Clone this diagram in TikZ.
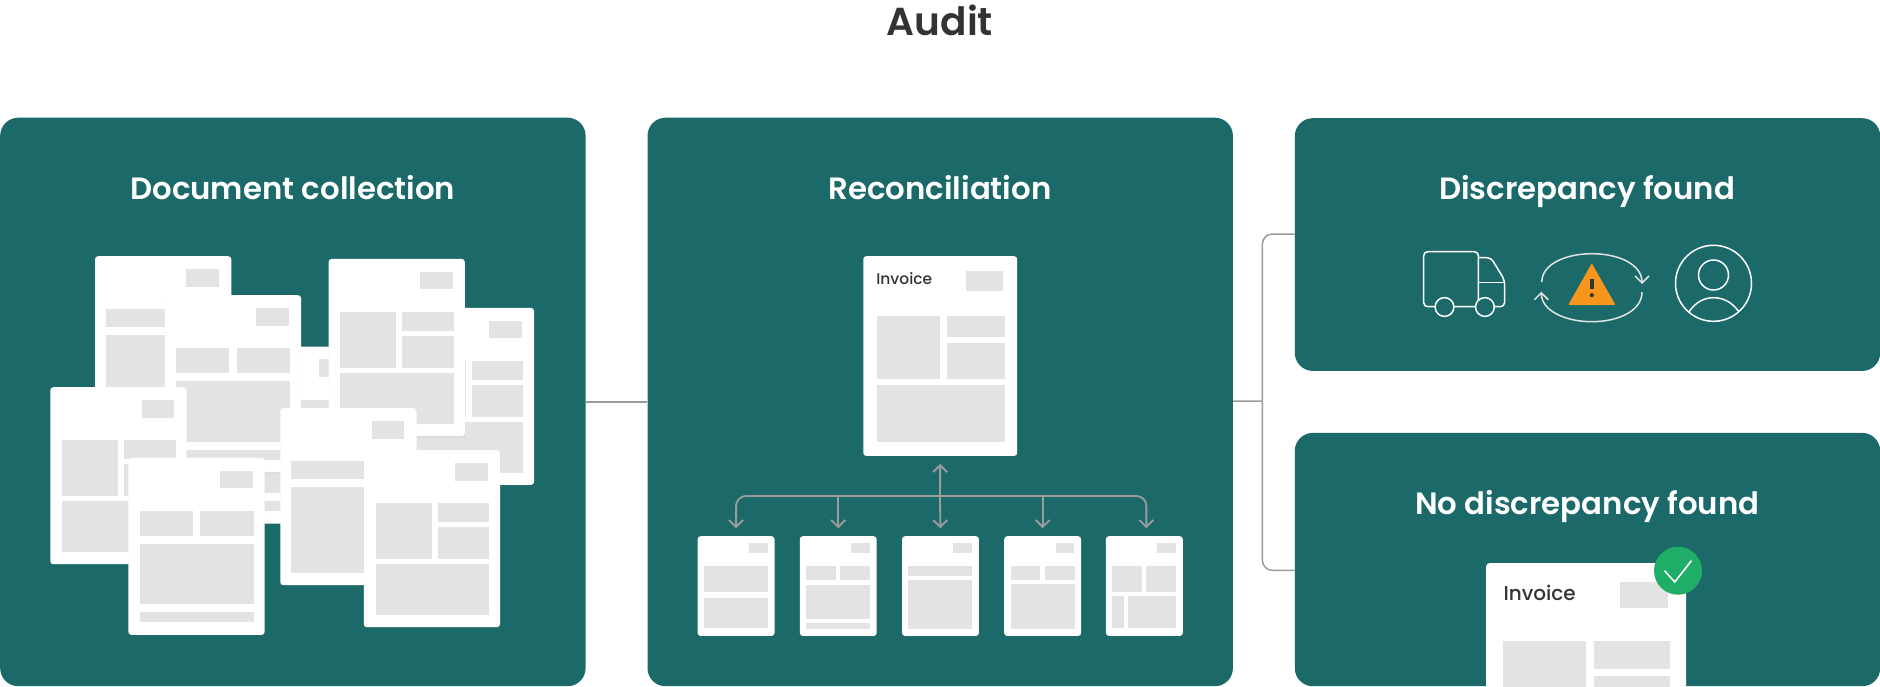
\documentclass[tikz,border=0pt]{standalone}
\usepackage{fontspec}
\setmainfont{Poppins}[UprightFont=* Medium,BoldFont=* Bold]
\newfontfamily\titlefont{Poppins SemiBold}
\usetikzlibrary{arrows.meta,shadows}
\definecolor{panelcol}{RGB}{27,105,105}
\definecolor{blockcol}{RGB}{227,227,227}
\definecolor{linecol}{RGB}{155,155,155}
\definecolor{inkcol}{RGB}{51,51,51}
\definecolor{warncol}{RGB}{247,150,28}
\definecolor{okcol}{RGB}{31,174,104}
\newcommand{\blk}[4]{\fill [blockcol] (#1,#2) rectangle (#3,#4);}
\tikzset{every picture/.style={x=1pt,y=-1pt}}
\tikzset{panel/.style={rectangle,fill=panelcol,rounded corners=18pt,inner sep=0,minimum width=585.4pt,anchor=north west}}
\tikzset{paneltitle/.style={text=white,anchor=base,inner sep=0,font=\titlefont\fontsize{30.8}{34}\selectfont}}
\tikzset{page/.style={rectangle,fill=white,rounded corners=3pt,inner sep=0,anchor=north west,minimum width=136.2pt,minimum height=177pt,drop shadow={shadow xshift=0pt,shadow yshift=-2pt,opacity=.08}}}
\tikzset{link/.style={draw=linecol,line width=1.5pt}}
\tikzset{flow/.style={link,line width=1.9pt,shorten >=7.7pt,-{Straight Barb[length=7pt,width=14pt]}}}
\tikzset{icon/.style={draw=white,line width=1.5pt,line join=round}}
\tikzset{pagebar/.pic={\blk{91.5}{13}{124.3}{30.7}\blk{11.3}{53}{125.3}{71}\blk{11.3}{78.7}{125.3}{164.7}}}
\tikzset{pagetwo/.pic={\blk{91.5}{13}{124.3}{30.7}\blk{11.3}{53.3}{64.5}{78.3}\blk{72}{53.3}{125.3}{78.3}\blk{11.3}{86.3}{125.3}{146.7}\blk{11.3}{154.7}{125.3}{164.7}}}
\tikzset{pagegrid/.pic={\blk{91.5}{13}{124.3}{30.7}\blk{11.9}{53.3}{68}{109}\blk{74}{53.3}{125.6}{72.3}\blk{74}{77.3}{125.6}{109}\blk{11.9}{114.3}{125.6}{165}}}
\tikzset{smallstack/.pic={\blk{51.7}{7}{70.4}{17.3}\blk{6.5}{30}{71}{56}\blk{6.5}{62}{71}{92}}}
\tikzset{smallwide/.pic={\blk{51.7}{7}{70.4}{17.3}\blk{6.5}{30}{36.3}{44.3}\blk{40.5}{30}{70.8}{44.3}\blk{6.5}{48}{70.8}{93}}}
\tikzset{smallmix/.pic={\blk{51.7}{7}{70.4}{17.3}\blk{6}{30}{36.3}{56}\blk{40}{30}{70.4}{56}\blk{6}{60}{18.3}{92}\blk{22}{60}{70.4}{92}}}

\begin{document}
\begin{tikzpicture}
\useasboundingbox (0,0) rectangle (1880,686);
\node [font=\titlefont\fontsize{39}{42}\selectfont,text=inkcol,anchor=base,inner sep=0] (audit) at (940,35.5) {Audit};
% panels
\node [panel,minimum height=568.5pt] (collect) at (0,117.5) {};
\node [panel,minimum height=568.5pt] (recon) at (647.3,117.5) {};
\node [panel,minimum height=252.7pt] (found) at (1294.6,118) {};
\node [panel,minimum height=253.3pt] (clear) at (1294.6,432.7) {};
\node [paneltitle] (collecttitle) at (292.8,199) {Document collection};
\node [paneltitle] (recontitle) at (940,199) {Reconciliation};
\node [paneltitle] (foundtitle) at (1587.2,199) {Discrepancy found};
\node [paneltitle] (cleartitle) at (1587.2,514) {No discrepancy found};
% connectors between panels
\coordinate (branch) at (1262.4,401);
\coordinate (foundin) at (1294.6,234);
\coordinate (clearin) at (1294.6,570.3);
\draw [link] (collect) -- (recon);
\draw [link] (recon) -- (branch);
\draw [link,rounded corners=10pt] (foundin) -| (branch) |- (clearin);
% document pile
\node [page] (pageA) at (94.9,256) {};
\pic at (pageA.north west) {pagebar};
\node [page] (pageB) at (227.3,346.3) {};
\pic at (pageB.north west) {pagetwo};
\node [page] (pageC) at (397.6,307.7) {};
\pic at (pageC.north west) {pagegrid};
\node [page] (pageD) at (164.6,295) {};
\pic at (pageD.north west) {pagetwo};
\node [page] (pageE) at (328.4,258.7) {};
\pic at (pageE.north west) {pagegrid};
\node [page] (pageF) at (50.1,387) {};
\pic at (pageF.north west) {pagegrid};
\node [page] (pageG) at (280.1,408) {};
\pic at (pageG.north west) {pagebar};
\node [page] (pageH) at (128.2,457.7) {};
\pic at (pageH.north west) {pagetwo};
\node [page] (pageI) at (363.6,450) {};
\pic at (pageI.north west) {pagegrid};
% reconciliation
\node [page,minimum width=153.9pt,minimum height=199.7pt] (invoice) at (863.1,256) {};
\pic [scale=1.127] at (invoice.north west) {pagegrid};
\node [text=inkcol,font=\fontsize{15.5}{18}\selectfont,anchor=west,inner sep=0] (invoicetext) at (876.1,278.7) {Invoice};
\node [page,minimum width=76.9pt,minimum height=99.7pt] (small1) at (697.4,536) {};
\pic at (small1.north west) {smallstack};
\node [page,minimum width=76.9pt,minimum height=99.7pt] (small2) at (799.6,536) {};
\pic [scale=.563] at (small2.north west) {pagetwo};
\node [page,minimum width=76.9pt,minimum height=99.7pt] (small3) at (901.8,536) {};
\pic [scale=.563] at (small3.north west) {pagebar};
\node [page,minimum width=76.9pt,minimum height=99.7pt] (small4) at (1004,536) {};
\pic at (small4.north west) {smallwide};
\node [page,minimum width=76.9pt,minimum height=99.7pt] (small5) at (1105.7,536) {};
\pic at (small5.north west) {smallmix};
\coordinate (hub) at (940,496);
\draw [flow] (hub) -- (invoice.south);
\draw [flow] (hub) -- (small3.north);
\draw [flow,rounded corners=10pt] (hub) -| (small1.north);
\draw [flow,rounded corners=10pt] (hub) -| ([xshift=2pt]small5.north);
\draw [flow] (small2.north |- hub) -- (small2.north);
\draw [flow] (small4.north |- hub) -- (small4.north);
% truck
\draw [icon,rounded corners=4pt] (1423.7,251.7) rectangle (1478.4,306.7);
\draw [icon,rounded corners=4pt] (1478.4,257.7) -- (1491,257.7) -- (1504.5,280) -- (1504.5,306.7) -- (1478.4,306.7);
\draw [icon] (1478.4,282.3) -- (1504.5,282.3);
\draw [icon,fill=panelcol] (1444.5,307) circle (9.4);
\draw [icon,fill=panelcol] (1484.9,307) circle (9.4);
% warning
\draw [icon,draw=blockcol,-{Straight Barb[length=7pt,width=14pt]}] (1541.8,282) .. controls (1541.8,264) and (1566,253.7) .. (1591.8,253.7) .. controls (1618,253.7) and (1642,264) .. (1642,284);
\draw [icon,draw=blockcol,-{Straight Barb[length=7pt,width=14pt]}] (1642,292) .. controls (1642,311) and (1618,321.7) .. (1591.8,321.7) .. controls (1566,321.7) and (1541.3,311) .. (1541.3,291.7);
\fill [warncol,rounded corners=1pt] (1591.8,263.3) -- (1615.5,305) -- (1568.2,305) -- cycle;
\draw [inkcol,line width=3.4pt] (1591.8,279.3) -- (1591.8,289.3);
\fill [inkcol] (1591.8,295.2) circle (2.1);
% person
\draw [icon] (1713.5,283.3) circle (38);
\draw [icon] (1713.5,275) circle (15);
\draw [icon] (1689,311.7) .. controls (1696,302) and (1704,297.7) .. (1713.5,297.7) .. controls (1723,297.7) and (1732,302) .. (1738.8,311.7);
% approved invoice
\begin{scope}
\clip (0,0) rectangle (1880,686);
\node [page,minimum width=200pt,minimum height=259pt] (approved) at (1486,563) {};
\pic [scale=1.464] at (approved.north west) {pagegrid};
\end{scope}
\node [text=inkcol,font=\fontsize{20}{24}\selectfont,anchor=west,inner sep=0] (approvedtext) at (1503.3,593.3) {Invoice};
\node [circle,fill=okcol,minimum size=48pt,inner sep=0] (okmark) at (1678,570.7) {};
\draw [draw=white,line width=1.6pt] (1664.5,570.7) -- (1674.7,582) -- (1691.4,560.7);
\end{tikzpicture}
\end{document}
